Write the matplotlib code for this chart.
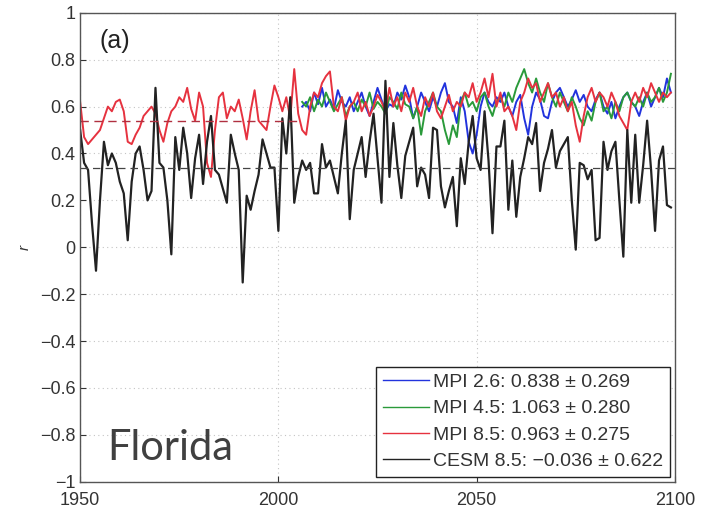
import numpy as np
import matplotlib
matplotlib.use("Agg")
import matplotlib.pyplot as plt

# ---- data ----
years_hist = np.arange(1950, 2100)
years_fut = np.arange(2006, 2100)

cesm85 = [
    0.50, 0.36, 0.33, 0.10, -0.10, 0.20, 0.45, 0.35, 0.40, 0.36,   # 1950s
    0.28, 0.23, 0.03, 0.28, 0.40, 0.43, 0.33, 0.20, 0.24, 0.68,    # 1960s
    0.36, 0.34, 0.20, -0.03, 0.47, 0.33, 0.51, 0.40, 0.21, 0.38,   # 1970s
    0.48, 0.27, 0.45, 0.56, 0.33, 0.31, 0.25, 0.19, 0.48, 0.40,    # 1980s
    0.33, -0.15, 0.22, 0.16, 0.24, 0.31, 0.46, 0.40, 0.34, 0.34,   # 1990s
    0.07, 0.55, 0.40, 0.64, 0.19, 0.30, 0.37, 0.33, 0.36, 0.23,    # 2000s
    0.23, 0.44, 0.34, 0.37, 0.30, 0.23, 0.40, 0.54, 0.12, 0.33,    # 2010s
    0.40, 0.47, 0.30, 0.45, 0.57, 0.38, 0.19, 0.71, 0.30, 0.53,    # 2020s
    0.35, 0.21, 0.39, 0.45, 0.51, 0.26, 0.34, 0.31, 0.21, 0.51,    # 2030s
    0.50, 0.26, 0.17, 0.24, 0.30, 0.09, 0.38, 0.27, 0.45, 0.56,    # 2040s
    0.38, 0.33, 0.58, 0.37, 0.06, 0.43, 0.43, 0.54, 0.16, 0.37,    # 2050s
    0.13, 0.30, 0.38, 0.47, 0.44, 0.53, 0.24, 0.36, 0.42, 0.50,    # 2060s
    0.34, 0.41, 0.44, 0.47, 0.20, -0.01, 0.36, 0.35, 0.29, 0.33,   # 2070s
    0.03, 0.04, 0.45, 0.33, 0.41, 0.45, 0.20, -0.04, 0.50, 0.19,   # 2080s
    0.48, 0.19, 0.35, 0.54, 0.33, 0.07, 0.37, 0.43, 0.18, 0.17,    # 2090s
]

mpi85 = [
    0.62, 0.47, 0.44, 0.46, 0.48, 0.50, 0.55, 0.60, 0.58, 0.62,
    0.63, 0.58, 0.45, 0.44, 0.48, 0.51, 0.56, 0.58, 0.60, 0.57,
    0.50, 0.45, 0.53, 0.58, 0.60, 0.64, 0.62, 0.68, 0.59, 0.54,
    0.66, 0.60, 0.36, 0.30, 0.50, 0.64, 0.66, 0.55, 0.60, 0.58,
    0.63, 0.55, 0.46, 0.58, 0.67, 0.54, 0.52, 0.50, 0.60, 0.69,
    0.64, 0.58, 0.64, 0.55, 0.76, 0.57, 0.50, 0.48, 0.60, 0.66,
    0.64, 0.70, 0.73, 0.75, 0.60, 0.58, 0.64, 0.54, 0.60, 0.62,
    0.66, 0.58, 0.62, 0.56, 0.60, 0.65, 0.62, 0.58, 0.68, 0.60,
    0.64, 0.58, 0.66, 0.62, 0.68, 0.60, 0.56, 0.64, 0.60, 0.66,
    0.58, 0.55, 0.60, 0.65, 0.58, 0.62, 0.60, 0.66, 0.64, 0.70,
    0.62, 0.66, 0.72, 0.64, 0.74, 0.60, 0.66, 0.58, 0.60, 0.56,
    0.50, 0.62, 0.66, 0.72, 0.68, 0.70, 0.62, 0.66, 0.70, 0.64,
    0.66, 0.60, 0.64, 0.58, 0.62, 0.52, 0.45, 0.56, 0.64, 0.68,
    0.62, 0.66, 0.64, 0.60, 0.66, 0.62, 0.56, 0.53, 0.50, 0.62,
    0.66, 0.62, 0.68, 0.64, 0.70, 0.66, 0.62, 0.66, 0.64, 0.66,
]

mpi26 = [
    0.60, 0.62, 0.58, 0.66,                                         # 2006-2009
    0.61, 0.68, 0.60, 0.63, 0.59, 0.67, 0.62, 0.60, 0.64, 0.58,
    0.62, 0.66, 0.60, 0.56, 0.62, 0.68, 0.63, 0.58, 0.61, 0.60,
    0.66, 0.63, 0.69, 0.64, 0.55, 0.60, 0.66, 0.62, 0.58, 0.64,
    0.60, 0.66, 0.70, 0.62, 0.60, 0.53, 0.64, 0.58, 0.45, 0.40,
    0.48, 0.60, 0.66, 0.62, 0.60, 0.64, 0.62, 0.66, 0.60, 0.56,
    0.62, 0.65, 0.55, 0.48, 0.60, 0.66, 0.63, 0.56, 0.55, 0.62,
    0.66, 0.68, 0.64, 0.60, 0.63, 0.67, 0.62, 0.65, 0.60, 0.58,
    0.63, 0.66, 0.60, 0.57, 0.62, 0.55, 0.60, 0.64, 0.66, 0.62,
    0.60, 0.56, 0.62, 0.66, 0.60, 0.64, 0.68, 0.64, 0.72, 0.66,
]

mpi45 = [
    0.62, 0.60, 0.64, 0.58,                                         # 2006-2009
    0.63, 0.60, 0.66, 0.62, 0.58, 0.61, 0.64, 0.56, 0.60, 0.62,
    0.58, 0.63, 0.60, 0.66, 0.59, 0.62, 0.60, 0.57, 0.64, 0.62,
    0.59, 0.66, 0.61, 0.60, 0.55, 0.60, 0.48, 0.58, 0.62, 0.66,
    0.60, 0.58, 0.50, 0.44, 0.52, 0.47, 0.62, 0.66, 0.60, 0.62,
    0.58, 0.64, 0.66, 0.60, 0.56, 0.62, 0.64, 0.60, 0.66, 0.62,
    0.68, 0.72, 0.76, 0.70, 0.66, 0.72, 0.66, 0.62, 0.70, 0.64,
    0.60, 0.66, 0.62, 0.58, 0.64, 0.60, 0.55, 0.52, 0.58, 0.54,
    0.62, 0.66, 0.58, 0.60, 0.55, 0.62, 0.58, 0.64, 0.66, 0.62,
    0.60, 0.64, 0.60, 0.66, 0.62, 0.64, 0.68, 0.62, 0.66, 0.74,
]

labels = ["MPI 2.6: 0.838 \u00b1 0.269",
          "MPI 4.5: 1.063 \u00b1 0.280",
          "MPI 8.5: 0.963 \u00b1 0.275",
          "CESM 8.5: \u22120.036 \u00b1 0.622"]

mean_hist_mpi = 0.54
mean_cesm = 0.337

# ---- figure ----
plt.rcParams["font.family"] = ["Liberation Sans", "DejaVu Sans"]

fig = plt.figure(figsize=(7.03, 5.12), dpi=100)
ax = fig.add_axes([0.114, 0.059, 0.846, 0.916])

ax.plot(years_fut, mpi26, color="#2233dd", lw=1.4, label=labels[0])
ax.plot(years_fut, mpi45, color="#2a9a3a", lw=1.4, label=labels[1])
ax.plot(years_hist, mpi85, color="#e6323f", lw=1.4, label=labels[2])
ax.plot(years_hist, cesm85, color="#222222", lw=1.6, label=labels[3])

ax.plot([1950, 2005], [mean_hist_mpi] * 2, color="#b03040", ls=(0, (6, 4)), lw=1.0)
ax.plot([1950, 2100], [mean_cesm] * 2, color="#444444", ls=(0, (6, 4)), lw=0.9)

ax.set_xlim(1950, 2100)
ax.set_ylim(-1, 1)
ax.set_xticks([1950, 2000, 2050, 2100])
ax.set_yticks(np.round(np.arange(-1, 1.01, 0.2), 1))
ax.set_yticklabels(["\u22121", "\u22120.8", "\u22120.6", "\u22120.4", "\u22120.2",
                    "0", "0.2", "0.4", "0.6", "0.8", "1"])
ax.tick_params(direction="in", labelsize=13, colors="#333333", length=4)
ax.tick_params(axis="x", pad=7)
ax.grid(True, ls=(0, (1, 3)), color="#c4c4c4", lw=0.8)
for s in ax.spines.values():
    s.set_color("#555555")
    s.set_linewidth(1.0)

ax.set_ylabel("r", fontstyle="italic", fontsize=11, color="#333333", labelpad=6)

ax.text(0.033, 0.965, "(a)", transform=ax.transAxes, fontsize=18,
        color="#222222", va="top")
ax.text(0.045, 0.047, "Florida", transform=ax.transAxes, fontsize=30,
        family=["Lato", "DejaVu Sans"], color="#404040", va="baseline")

leg = ax.legend(loc="lower right", fontsize=14, handlelength=2.4,
                handletextpad=0.2, borderaxespad=0.25, borderpad=0.35,
                labelspacing=0.45, fancybox=False, framealpha=1)
leg.get_frame().set_edgecolor("#222222")
leg.get_frame().set_linewidth(1.0)
for t in leg.get_texts():
    t.set_color("#333333")
for h in leg.get_lines():
    h.set_linewidth(1.0)

fig.savefig("out.png", dpi=100)
